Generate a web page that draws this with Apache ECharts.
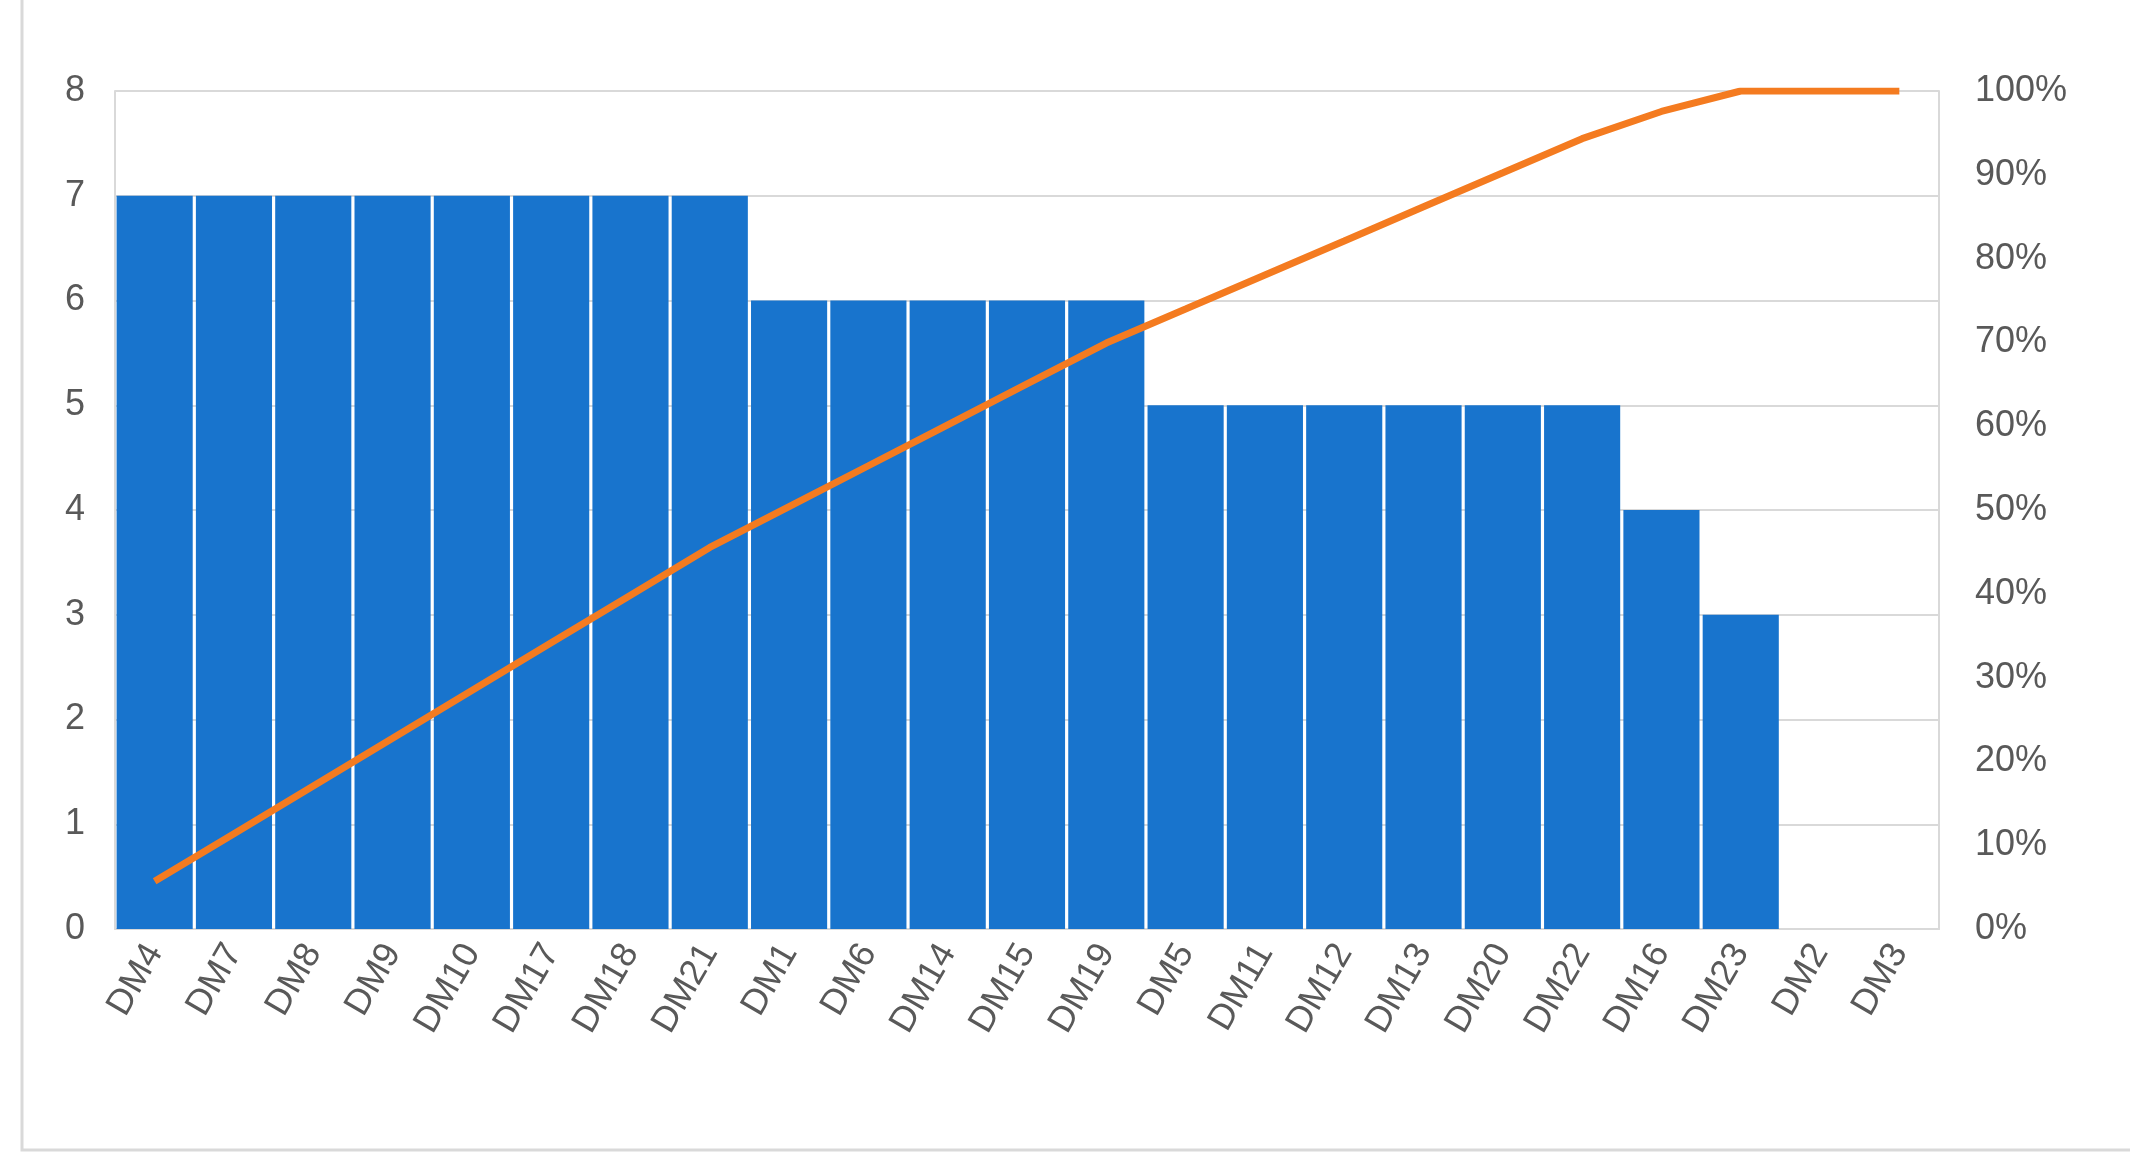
<!DOCTYPE html>
<html><head><meta charset="utf-8">
<script src="https://cdn.jsdelivr.net/npm/echarts@6/dist/echarts.min.js"></script>
<style>html,body{margin:0;padding:0;background:#fff}#c{width:2153px;height:1167px}</style>
</head><body><div id="c"></div>
<script>
const categories = ["DM4","DM7","DM8","DM9","DM10","DM17","DM18","DM21","DM1","DM6","DM14","DM15","DM19","DM5","DM11","DM12","DM13","DM20","DM22","DM16","DM23","DM2","DM3"];
const counts = [7,7,7,7,7,7,7,7,6,6,6,6,6,5,5,5,5,5,5,4,3,0,0];
const total = counts.reduce((a,b)=>a+b,0);
let run = 0;
const cumPct = counts.map(v => { run += v; return +(run/total*100).toFixed(2); });
const chart = echarts.init(document.getElementById('c'));
const txt = {color:'#595959', fontSize:36, fontFamily:'Liberation Sans'};
chart.setOption({
  animation:false,
  graphic:[{type:'polyline',shape:{points:[[22,0],[22,1150],[2130,1150]]},style:{stroke:'#d9d9d9',lineWidth:3,fill:null}}],
  grid:{left:115,right:214,top:91,bottom:238},
  xAxis:{type:'category',data:categories,axisTick:{show:false},
    axisLine:{lineStyle:{color:'#d9d9d9',width:2}},
    axisLabel:Object.assign({rotate:60,interval:0,margin:18},txt)},
  yAxis:[
    {type:'value',min:0,max:8,interval:1,axisLabel:Object.assign({margin:30},txt),
     splitLine:{lineStyle:{color:'#d9d9d9',width:2}},axisLine:{show:true,lineStyle:{color:'#d9d9d9',width:2}}},
    {type:'value',min:0,max:100,interval:10,axisLabel:Object.assign({formatter:'{value}%',margin:36},txt),
     splitLine:{show:false},axisLine:{show:true,lineStyle:{color:'#d9d9d9',width:2}}}
  ],
  series:[
    {type:'bar',data:counts,barCategoryGap:'4%',itemStyle:{color:'#1874cd'}},
    {type:'line',yAxisIndex:1,data:cumPct,symbol:'none',lineStyle:{color:'#f47b20',width:7}}
  ]
});
</script></body></html>
